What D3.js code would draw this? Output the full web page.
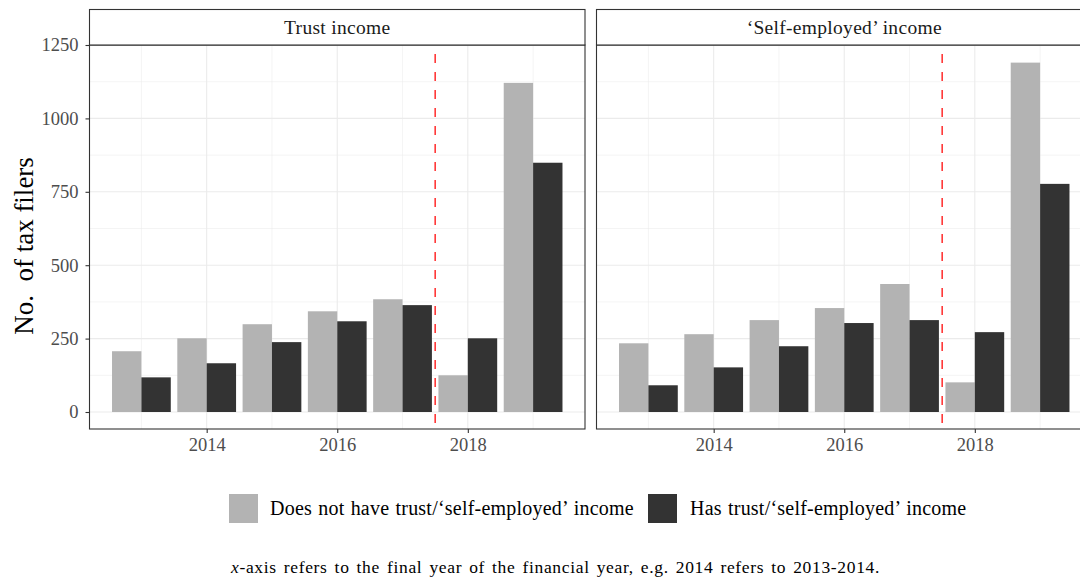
<!DOCTYPE html>
<html>
<head>
<meta charset="utf-8">
<script src="https://cdn.jsdelivr.net/npm/d3@7"></script>
<style>
  html, body { margin: 0; padding: 0; background: #fff; }
  svg { display: block; }
  text { font-family: "Liberation Serif", "DejaVu Serif", serif; }
</style>
</head>
<body>
<svg id="chart" width="1080" height="577"></svg>
<script>
// Financial years (final year of each financial year)
const years = [2013, 2014, 2015, 2016, 2017, 2018, 2019];

// Number of tax filers, trust income panel
const trustWithout = [207, 251, 299, 343, 384, 125, 1121];
const trustWith    = [118, 166, 238, 309, 364, 251, 849];

// Number of tax filers, 'self-employed' income panel
const selfWithout = [234, 265, 313, 354, 436, 101, 1190];
const selfWith    = [91, 152, 224, 303, 313, 272, 777];

const panelTitles = ["Trust income", "\u2018Self-employed\u2019 income"];
const seriesNames = ["Does not have trust/\u2018self-employed\u2019 income",
                     "Has trust/\u2018self-employed\u2019 income"];
const seriesColors = ["#B3B3B3", "#333333"];

const yTicks = [0, 250, 500, 750, 1000, 1250];
const yMinor = [125, 375, 625, 875, 1125];
const xTicks = [2014, 2016, 2018];
const xMinor = [2013, 2015, 2017, 2019];
const cutoffYear = 2017.5;

const caption = "-axis refers to the final year of the financial year, e.g. 2014 refers to 2013-2014.";

const panels = [
  { title: panelTitles[0], without: trustWithout, withInc: trustWith, x0: 89.5 },
  { title: panelTitles[1], without: selfWithout, withInc: selfWith, x0: 596.5 }
];

const svg = d3.select("#chart");
const panelW = 495.5;
const stripTop = 9.5, plotTop = 45, plotBottom = 429;

// shared value scale (0 sits slightly above the panel floor)
const y = d3.scaleLinear().domain([0, 1250]).range([412, 45]);
const barHalf = 0.45;

panels.forEach((p, pi) => {
  const x = d3.scaleLinear().domain([2012.205, 2019.795]).range([p.x0, p.x0 + panelW]);
  const g = svg.append("g");

  // clip panel contents
  const clipId = "clip" + pi;
  svg.append("clipPath").attr("id", clipId).append("rect")
    .attr("x", p.x0).attr("y", plotTop).attr("width", panelW).attr("height", plotBottom - plotTop);
  const inner = g.append("g").attr("clip-path", `url(#${clipId})`);

  // minor grid
  inner.selectAll("line.ymin").data(yMinor).join("line")
    .attr("x1", p.x0).attr("x2", p.x0 + panelW)
    .attr("y1", d => y(d)).attr("y2", d => y(d))
    .attr("stroke", "#EBEBEB").attr("stroke-width", 0.55);
  inner.selectAll("line.xmin").data(xMinor).join("line")
    .attr("y1", plotTop).attr("y2", plotBottom)
    .attr("x1", d => x(d)).attr("x2", d => x(d))
    .attr("stroke", "#EBEBEB").attr("stroke-width", 0.55);
  // major grid
  inner.selectAll("line.ymaj").data(yTicks).join("line")
    .attr("x1", p.x0).attr("x2", p.x0 + panelW)
    .attr("y1", d => y(d)).attr("y2", d => y(d))
    .attr("stroke", "#EBEBEB").attr("stroke-width", 1.1);
  inner.selectAll("line.xmaj").data(xTicks).join("line")
    .attr("y1", plotTop).attr("y2", plotBottom)
    .attr("x1", d => x(d)).attr("x2", d => x(d))
    .attr("stroke", "#EBEBEB").attr("stroke-width", 1.1);

  // bars: without (light) left of the year, with (dark) right of the year
  inner.selectAll("rect.without").data(years).join("rect")
    .attr("x", d => x(d - barHalf)).attr("width", d => x(d) - x(d - barHalf))
    .attr("y", (d, i) => y(p.without[i])).attr("height", (d, i) => y(0) - y(p.without[i]))
    .attr("fill", seriesColors[0]);
  inner.selectAll("rect.with").data(years).join("rect")
    .attr("x", d => x(d)).attr("width", d => x(d + barHalf) - x(d))
    .attr("y", (d, i) => y(p.withInc[i])).attr("height", (d, i) => y(0) - y(p.withInc[i]))
    .attr("fill", seriesColors[1]);

  // policy change marker
  inner.append("line")
    .attr("x1", x(cutoffYear)).attr("x2", x(cutoffYear))
    .attr("y1", plotTop).attr("y2", plotBottom)
    .attr("stroke", "#FF2B2B").attr("stroke-width", 1.5)
    .attr("stroke-dasharray", "9,9").attr("stroke-dashoffset", 9);

  // panel border
  g.append("rect").attr("x", p.x0).attr("y", plotTop).attr("width", panelW).attr("height", plotBottom - plotTop)
    .attr("fill", "none").attr("stroke", "#333333").attr("stroke-width", 1.1);

  // strip
  g.append("rect").attr("x", p.x0).attr("y", stripTop).attr("width", panelW).attr("height", plotTop - stripTop)
    .attr("fill", "#fff").attr("stroke", "#333333").attr("stroke-width", 1.1);
  g.append("text").attr("x", p.x0 + panelW / 2).attr("y", 34)
    .attr("text-anchor", "middle").attr("font-size", 19.5).attr("fill", "#1A1A1A")
    .attr("letter-spacing", 0.3)
    .text(p.title);

  // x axis
  const xAxis = d3.axisBottom(x).tickValues(xTicks).tickFormat(d3.format("d")).tickSize(4).tickPadding(5);
  const xa = g.append("g").attr("transform", `translate(0,${plotBottom})`).call(xAxis);
  xa.select(".domain").remove();
  xa.selectAll(".tick line").attr("stroke", "#333333").attr("stroke-width", 1.1);
  xa.selectAll(".tick text").attr("font-size", 18.5).attr("fill", "#4D4D4D")
    .attr("font-family", "Liberation Serif, serif");

  // y axis only on the first panel
  if (pi === 0) {
    const yAxis = d3.axisLeft(y).tickValues(yTicks).tickFormat(d3.format("d")).tickSize(4).tickPadding(7);
    const ya = g.append("g").attr("transform", `translate(${p.x0},0)`).call(yAxis);
    ya.select(".domain").remove();
    ya.selectAll(".tick line").attr("stroke", "#333333").attr("stroke-width", 1.1);
    ya.selectAll(".tick text").attr("font-size", 18.5).attr("fill", "#4D4D4D")
      .attr("font-family", "Liberation Serif, serif");
  }
});

// y axis title
svg.append("text")
  .attr("transform", "translate(33,246) rotate(-90)")
  .attr("text-anchor", "middle").attr("font-size", 27).attr("fill", "#000")
  .attr("xml:space", "preserve")
  .text("No.  of tax filers");

// legend
const legendItems = [
  { name: seriesNames[0], color: seriesColors[0], kx: 229, tx: 270 },
  { name: seriesNames[1], color: seriesColors[1], kx: 648, tx: 690 }
];
const lg = svg.append("g");
lg.selectAll("rect").data(legendItems).join("rect")
  .attr("x", d => d.kx).attr("y", 494).attr("width", 29).attr("height", 29)
  .attr("fill", d => d.color);
lg.selectAll("text").data(legendItems).join("text")
  .attr("x", d => d.tx).attr("y", 515)
  .attr("font-size", 20).attr("letter-spacing", 0.22).attr("word-spacing", 1).attr("fill", "#000")
  .text(d => d.name);

// caption
const cap = svg.append("text").attr("x", 231).attr("y", 573).attr("font-size", 17.5)
  .attr("letter-spacing", 0.66).attr("word-spacing", 2).attr("fill", "#000");
cap.append("tspan").attr("font-style", "italic").text("x");
cap.append("tspan").text(caption);
</script>
</body>
</html>
